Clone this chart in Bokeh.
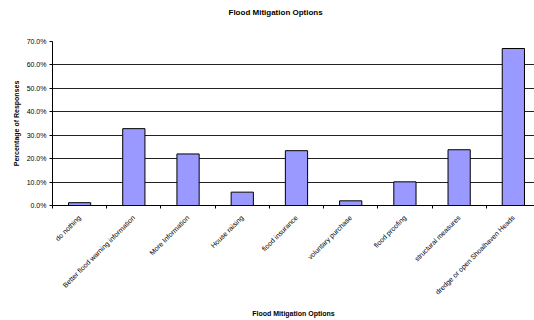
import math
from bokeh.plotting import figure
from bokeh.models import (ColumnDataSource, Range1d, FixedTicker, NumeralTickFormatter,
                          CustomJSTickFormatter, Title)
from bokeh.embed import file_html
from bokeh.resources import INLINE

# Survey responses per mitigation option (share of respondents)
options = [
    "do nothing",
    "Better flood warning information",
    "More Information",
    "House raising",
    "flood insurance",
    "voluntary purchase",
    "flood proofing",
    "structural measures",
    "dredge or open Shoalhaven Heads",
]
shares = [0.012, 0.328, 0.220, 0.057, 0.234, 0.020, 0.101, 0.238, 0.670]
y_ticks = [0.0, 0.1, 0.2, 0.3, 0.4, 0.5, 0.6, 0.7]

FONT = "Liberation Sans"

centers = [i + 0.5 for i in range(len(options))]
source = ColumnDataSource(data=dict(x=centers, share=shares, option=options))

p = figure(
    width=534, height=320,
    x_range=Range1d(0, 8.89), y_range=Range1d(0, 0.7),
    output_backend="svg", toolbar_location=None, tools="",
    min_border_left=52, min_border_right=0, min_border_top=41, min_border_bottom=10,
)
p.outline_line_color = None
p.background_fill_color = "white"
p.border_fill_color = "white"

# empty spacer panel next to the frame, chart title above it
p.add_layout(Title(text=" ", standoff=9, text_font=FONT, text_font_size="8px"), "above")
p.add_layout(Title(text="Flood Mitigation Options", align="left", offset=176,
                   standoff=10,
                   text_font=FONT, text_font_size="8px", text_font_style="bold",
                   text_color="black"), "above")

p.vbar(x="x", top="share", width=0.41, source=source,
       fill_color="#9999FF", line_color="black", line_width=1)

# y axis: percentages with outward ticks
ya = p.yaxis[0]
ya.ticker = FixedTicker(ticks=y_ticks)
ya.formatter = NumeralTickFormatter(format="0.0%")
ya.axis_label = "Percentage of Responses"
ya.axis_label_text_font = FONT
ya.axis_label_text_font_size = "7px"
ya.axis_label_text_font_style = "bold"
ya.axis_label_text_color = "black"
ya.axis_label_standoff = 4
ya.major_label_text_font = FONT
ya.major_label_text_font_size = "7px"
ya.major_label_text_color = "black"
ya.major_label_standoff = 3
ya.major_tick_out = 3
ya.major_tick_in = 0
ya.minor_tick_line_color = None
ya.axis_line_color = "black"
ya.major_tick_line_color = "black"

# x axis: category names at bar centres, tick marks on category boundaries
xa = p.xaxis[0]
xa.ticker = FixedTicker(ticks=centers, minor_ticks=list(range(len(options) + 1)))
xa.formatter = CustomJSTickFormatter(args=dict(names=options),
                                     code="return names[Math.floor(tick)]")
xa.major_label_orientation = math.pi / 4
xa.major_label_text_font = FONT
xa.major_label_text_font_size = "7px"
xa.major_label_text_color = "black"
xa.major_label_standoff = 8
xa.major_tick_out = 0
xa.major_tick_in = 0
xa.minor_tick_out = 3
xa.minor_tick_in = 0
xa.minor_tick_line_color = "black"
xa.axis_line_color = "black"
xa.axis_label = "Flood Mitigation Options"
xa.axis_label_text_font = FONT
xa.axis_label_text_font_size = "7px"
xa.axis_label_text_font_style = "bold"
xa.axis_label_text_color = "black"
xa.axis_label_standoff = 9

p.xgrid.grid_line_color = None
p.ygrid.ticker = FixedTicker(ticks=y_ticks)
p.ygrid.grid_line_color = "#222222"
p.ygrid.grid_line_width = 1

open("out.html", "w").write(file_html(p, INLINE))
